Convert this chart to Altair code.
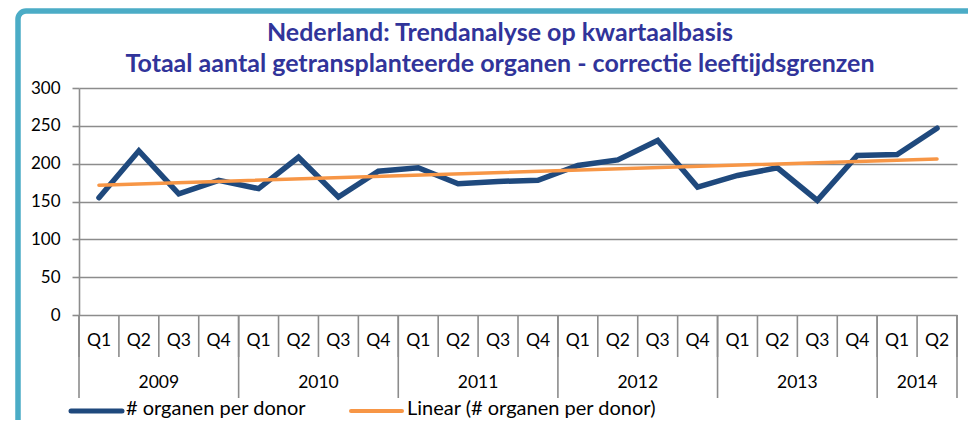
import altair as alt
import pandas as pd

# ---- data ----
years = ["2009"] * 4 + ["2010"] * 4 + ["2011"] * 4 + ["2012"] * 4 + ["2013"] * 4 + ["2014"] * 2
quarters = ["Q1", "Q2", "Q3", "Q4"] * 5 + ["Q1", "Q2"]
organs_per_donor = [155, 217, 160, 178, 167, 208.5, 156, 190, 194.6, 173.5, 176.5, 178,
                    197.6, 205, 230.6, 169, 184.4, 194.6, 151.5, 210.8, 212, 246.8]
y_ticks = [0, 50, 100, 150, 200, 250, 300]
series_names = ["# organen per donor", "Linear (# organen per donor)"]
title_lines = ["Nederland: Trendanalyse op kwartaalbasis",
               "Totaal aantal getransplanteerde organen - correctie leeftijdsgrenzen"]

# ---- styling ----
W, H = 878, 227
BLUE = "#1F497D"
ORANGE = "#F79646"
TEAL = "#4BACC6"
GRAY = "#8C8C8C"
TITLE_C = "#31349A"
FONT = "Lato"

n = len(organs_per_donor)
df = pd.DataFrame({"idx": list(range(n)), "quarter": quarters, "year": years,
                   "value": organs_per_donor})

# category boundaries (between quarters) and year boundaries
bounds = pd.DataFrame({"b": [i - 0.5 for i in range(n + 1)]})
year_starts = [i for i in range(n) if i == 0 or years[i] != years[i - 1]]
ybounds = pd.DataFrame({"b": [i - 0.5 for i in year_starts] + [n - 0.5]})

xscale = alt.Scale(domain=[-0.5, n - 0.5], nice=False, zero=False)
yscale = alt.Scale(domain=[0, 300], nice=False)

yaxis = alt.Axis(values=y_ticks, title=None, grid=True, gridColor=GRAY, gridWidth=1.6,
                 domainColor=GRAY, domainWidth=1.6, tickColor=GRAY, tickWidth=1.6,
                 tickSize=7, labelFont=FONT, labelFontSize=17, labelColor="#000000",
                 labelPadding=12)

base = alt.Chart(df)

line = base.mark_line(color=BLUE, strokeWidth=5.5, strokeJoin="miter", strokeCap="round").encode(
    x=alt.X("idx:Q", scale=xscale, axis=None),
    y=alt.Y("value:Q", scale=yscale, axis=yaxis),
)

trend = base.transform_regression("idx", "value").mark_line(
    color=ORANGE, strokeWidth=3.5, strokeCap="round").encode(
    x=alt.X("idx:Q", scale=xscale, axis=None),
    y=alt.Y("value:Q", scale=yscale, axis=yaxis),
)

qsep = alt.Chart(bounds).mark_rule(color=GRAY, strokeWidth=1.6).encode(
    x=alt.X("b:Q", scale=xscale, axis=None),
    y=alt.value(H), y2=alt.value(H + 42),
)
ysep = alt.Chart(ybounds).mark_rule(color=GRAY, strokeWidth=1.6).encode(
    x=alt.X("b:Q", scale=xscale, axis=None),
    y=alt.value(H), y2=alt.value(H + 83),
)

qlabels = base.mark_text(font=FONT, fontSize=17.5, color="#000000", baseline="middle").encode(
    x=alt.X("idx:Q", scale=xscale, axis=None),
    y=alt.value(H + 26),
    text="quarter:N",
)
ylabels = base.mark_text(font=FONT, fontSize=17.5, color="#000000", baseline="middle").encode(
    x=alt.X("mean(idx):Q", scale=xscale, axis=None),
    y=alt.value(H + 68),
    text="year:N",
)

one = alt.Data(values=[{"k": 0}])

title1 = alt.Chart(one).mark_text(font=FONT, fontSize=25, fontWeight="bold", color=TITLE_C,
                                  baseline="alphabetic", align="center").encode(
    x=alt.value(421), y=alt.value(-47), text=alt.value(title_lines[0]))
title2 = alt.Chart(one).mark_text(font=FONT, fontSize=25, fontWeight="bold", color=TITLE_C,
                                  baseline="alphabetic", align="center").encode(
    x=alt.value(421), y=alt.value(-16), text=alt.value(title_lines[1]))

leg_y = H + 96
leg_text_y = H + 100
leg1_line = alt.Chart(one).mark_rule(color=BLUE, strokeWidth=5, strokeCap="round").encode(
    x=alt.value(-8), x2=alt.value(43), y=alt.value(leg_y))
leg1_text = alt.Chart(one).mark_text(font=FONT, fontSize=20, color="#000000", align="left",
                                     baseline="alphabetic").encode(
    x=alt.value(47), y=alt.value(leg_text_y), text=alt.value(series_names[0]))
leg2_line = alt.Chart(one).mark_rule(color=ORANGE, strokeWidth=4, strokeCap="round").encode(
    x=alt.value(272), x2=alt.value(323), y=alt.value(leg_y))
leg2_text = alt.Chart(one).mark_text(font=FONT, fontSize=20, color="#000000", align="left",
                                     baseline="alphabetic").encode(
    x=alt.value(328), y=alt.value(leg_text_y), text=alt.value(series_names[1]))

border = alt.Chart(one).mark_rect(filled=False, stroke=TEAL, strokeWidth=5.5, cornerRadius=8).encode(
    x=alt.value(-61), x2=alt.value(W + 60), y=alt.value(-77), y2=alt.value(H + 150))

chart = alt.layer(
    border, ysep, qsep, line, trend, qlabels, ylabels, title1, title2,
    leg1_line, leg1_text, leg2_line, leg2_text,
).properties(
    width=W, height=H,
    autosize=alt.AutoSizeParams(type="none"),
    padding={"left": 71, "top": 80, "right": 11, "bottom": 105},
    background="white",
).configure_view(stroke=None)

chart.save("out.html", embed_options={"renderer": "svg", "actions": False})
